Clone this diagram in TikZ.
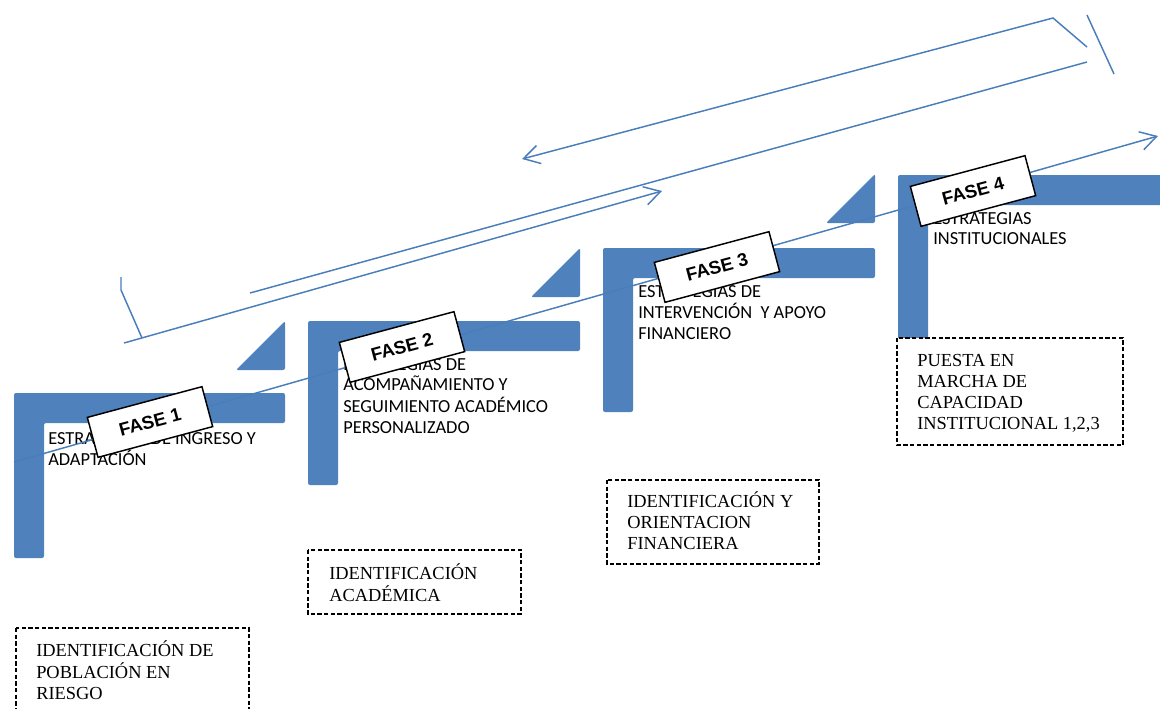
\documentclass[tikz,border=0pt]{standalone}
\usepackage{fontspec}
\setmainfont{Liberation Serif}
\newfontfamily\stepfont{Carlito}
\newfontfamily\fasefont{Liberation Sans}
\usetikzlibrary{arrows.meta}
\definecolor{stepblue}{HTML}{4F81BD}
\definecolor{lineblue}{HTML}{4A7EBB}
\newcommand{\noteLines}[1]{\begin{tabular}[t]{@{}l@{}}#1\end{tabular}}

\begin{document}
\begin{tikzpicture}[x=0.75pt, y=-0.75pt,
    stepbar/.style={fill=stepblue, rounded corners=1.5pt},
    trend/.style={draw=lineblue, line width=1.1pt},
    openhead/.style={-{Straight Barb[length=12pt, width=14pt]}},
    fasebox/.style={draw=black, line width=1.1pt, fill=white, rotate=15,
        minimum width=89pt, minimum height=31pt, inner sep=0pt,
        font=\fasefont\bfseries\fontsize{13.8}{16}\selectfont},
    stepnote/.style={anchor=base west, inner sep=0pt,
        font=\stepfont\fontsize{13.8}{15.5}\selectfont},
    dashbox/.style={draw=black, fill=white, line width=1.1pt,
        dash pattern=on 3.2pt off 1.8pt},
    boxnote/.style={anchor=base west, inner sep=0pt,
        font=\fontsize{13.8}{15.8}\selectfont}]
    \useasboundingbox (0,0) rectangle (1160,708);
    % step 1
    \fill[stepbar] (14,393) -- (285,393) -- (285,423) -- (44,423) -- (44,558) -- (14,558) -- cycle;
    \fill[stepbar] (236,370) -- (285,321) -- (285,370) -- cycle;
    % step 2
    \fill[stepbar] (308,321) -- (580,321) -- (580,351) -- (338,351) -- (338,485) -- (308,485) -- cycle;
    \fill[stepbar] (531,297) -- (580,248) -- (580,297) -- cycle;
    % step 3
    \fill[stepbar] (603,248) -- (875,248) -- (875,278) -- (633,278) -- (633,412) -- (603,412) -- cycle;
    \fill[stepbar] (826,223) -- (875,174) -- (875,223) -- cycle;
    % step 4
    \fill[stepbar] (898,175) -- (1170,175) -- (1170,205) -- (928,205) -- (928,342) -- (898,342) -- cycle;
    % step texts
    \node[stepnote] (step-1-text) at (48,444) {\noteLines{ESTRATEGIAS DE INGRESO Y\\ ADAPTACIÓN}};
    \node[stepnote] (step-2-text) at (343,370) {\noteLines{ESTRATEGIAS DE\\ ACOMPAÑAMIENTO Y\\ SEGUIMIENTO ACADÉMICO\\ PERSONALIZADO}};
    \node[stepnote] (step-3-text) at (638,297) {\noteLines{ESTRATEGIAS DE\\ INTERVENCIÓN\ \ Y APOYO\\ FINANCIERO}};
    \node[stepnote] (step-4-text) at (933,224) {\noteLines{ESTRATEGIAS\\ INSTITUCIONALES}};
    % coordinates
    \coordinate (axis-start) at (14,462);
    \coordinate (axis-end) at (1158,136);
    \coordinate (lower-guide-start) at (124,343);
    \coordinate (lower-guide-end) at (662,191);
    \coordinate (lower-tick-top) at (121,277);
    \coordinate (lower-tick-bend) at (121,290);
    \coordinate (lower-tick-foot) at (142,338);
    \coordinate (upper-guide-start) at (250,293);
    \coordinate (upper-guide-end) at (1087,62);
    \coordinate (return-start) at (1087,47);
    \coordinate (return-bend) at (1053,18);
    \coordinate (return-end) at (522,159);
    \coordinate (upper-tick-top) at (1087,15);
    \coordinate (upper-tick-foot) at (1114,74);
    % axis through the phases
    \draw[trend, openhead] (axis-start) -- (axis-end);
    % lower guide with its tick
    \draw[trend, openhead] (lower-guide-start) -- (lower-guide-end);
    \draw[trend] (lower-tick-top) -- (lower-tick-bend) -- (lower-tick-foot);
    % upper guide
    \draw[trend] (upper-guide-start) -- (upper-guide-end);
    % return guide with its tick
    \draw[trend, openhead] (return-start) -- (return-bend) -- (return-end);
    \draw[trend] (upper-tick-top) -- (upper-tick-foot);
    % phase labels
    \node[fasebox] (fase-1) at (150,422) {FASE 1};
    \node[fasebox] (fase-2) at (402,347) {FASE 2};
    \node[fasebox] (fase-3) at (717,267) {FASE 3};
    \node[fasebox] (fase-4) at (973,191) {FASE 4};
    % identification boxes
    \draw[dashbox] (16,628) rectangle (249,720);
    \node[boxnote] (ident-1) at (36,656) {\noteLines{IDENTIFICACIÓN DE\\ POBLACIÓN EN\\ RIESGO}};
    \draw[dashbox] (308,550) rectangle (521,614);
    \node[boxnote] (ident-2) at (329,579) {\noteLines{IDENTIFICACIÓN\\ ACADÉMICA}};
    \draw[dashbox] (607,480) rectangle (819,564);
    \node[boxnote] (ident-3) at (627,507) {\noteLines{IDENTIFICACIÓN Y\\ ORIENTACION\\ FINANCIERA}};
    \draw[dashbox] (897,338) rectangle (1123,445);
    \node[boxnote] (ident-4) at (917,366) {\noteLines{PUESTA EN\\ MARCHA DE\\ CAPACIDAD\\ INSTITUCIONAL 1,2,3}};
\end{tikzpicture}
\end{document}
